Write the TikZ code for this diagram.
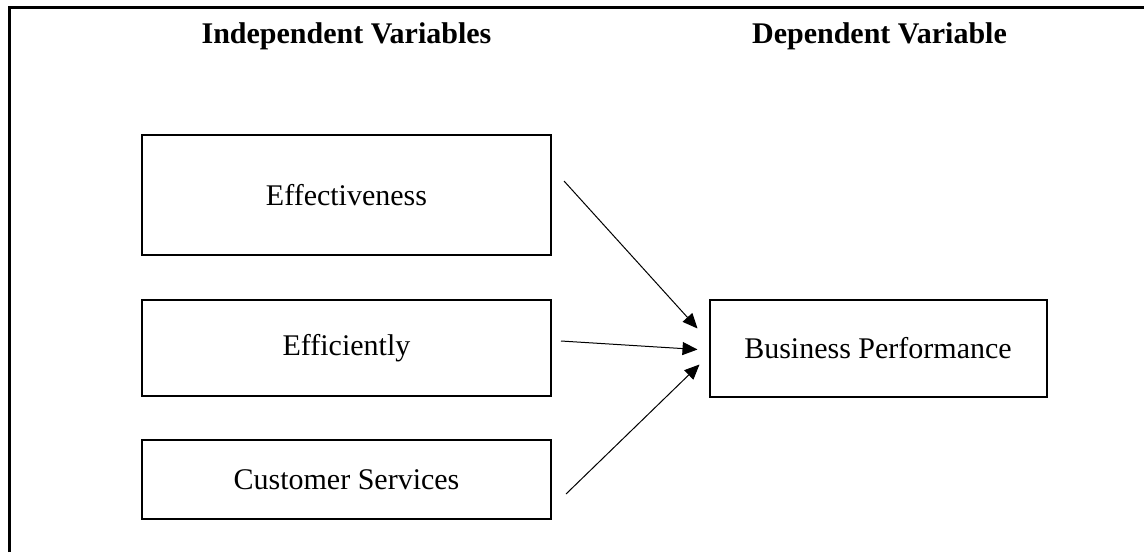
\documentclass[tikz,border=0pt]{standalone}
\usepackage{fontspec}
\setmainfont{Liberation Serif}
\usetikzlibrary{positioning, arrows.meta}

\begin{document}
\begin{tikzpicture}
    [
        x=0.5pt, y=-0.5pt, on grid, font=\fontsize{15}{18}\selectfont,
        var_node/.style={rectangle, draw=black, line width=1pt, inner sep=0pt, minimum width=204.5pt},
        title_node/.style={font=\fontsize{15}{18}\selectfont\bfseries, anchor=base},
        link/.style={-{Triangle[length=7.5pt, width=6.5pt]}, line width=0.5pt, color=black},
    ]
        \useasboundingbox (0,0) rectangle (1144,552);
        \draw[line width=1.75pt] (9.5,552) -- (9.5,7.5) -- (1144,7.5) ;
        \node[title_node] (ind_title) at (346.5,43) {Independent Variables} ;
        \node[title_node] (dep_title) at (879.5,43) {Dependent Variable} ;
        \node[var_node, minimum height=60pt] (eff) at (346.5,195) {Effectiveness} ;
        \node[var_node, minimum height=48pt] (effi) [below = 76.5pt of eff] {Efficiently} ;
        \node[var_node, minimum height=39.5pt] (cust) [below = 65.75pt of effi] {Customer Services} ;
        \node[var_node, minimum width=168.5pt, minimum height=48.5pt] (bus) [right = 265.75pt of effi] {Business Performance} ;
        \draw[link] ([xshift=6pt, yshift=7pt]eff.east) to ([xshift=-5.5pt, yshift=9.75pt]bus.west) ;
        \draw[link] ([xshift=4.5pt, yshift=3.5pt]effi.east) to ([xshift=-5.5pt, yshift=-0.75pt]bus.west) ;
        \draw[link] ([xshift=7pt, yshift=-7.25pt]cust.east) to ([xshift=-4.5pt, yshift=-8.25pt]bus.west) ;
    \end{tikzpicture}
\end{document}
